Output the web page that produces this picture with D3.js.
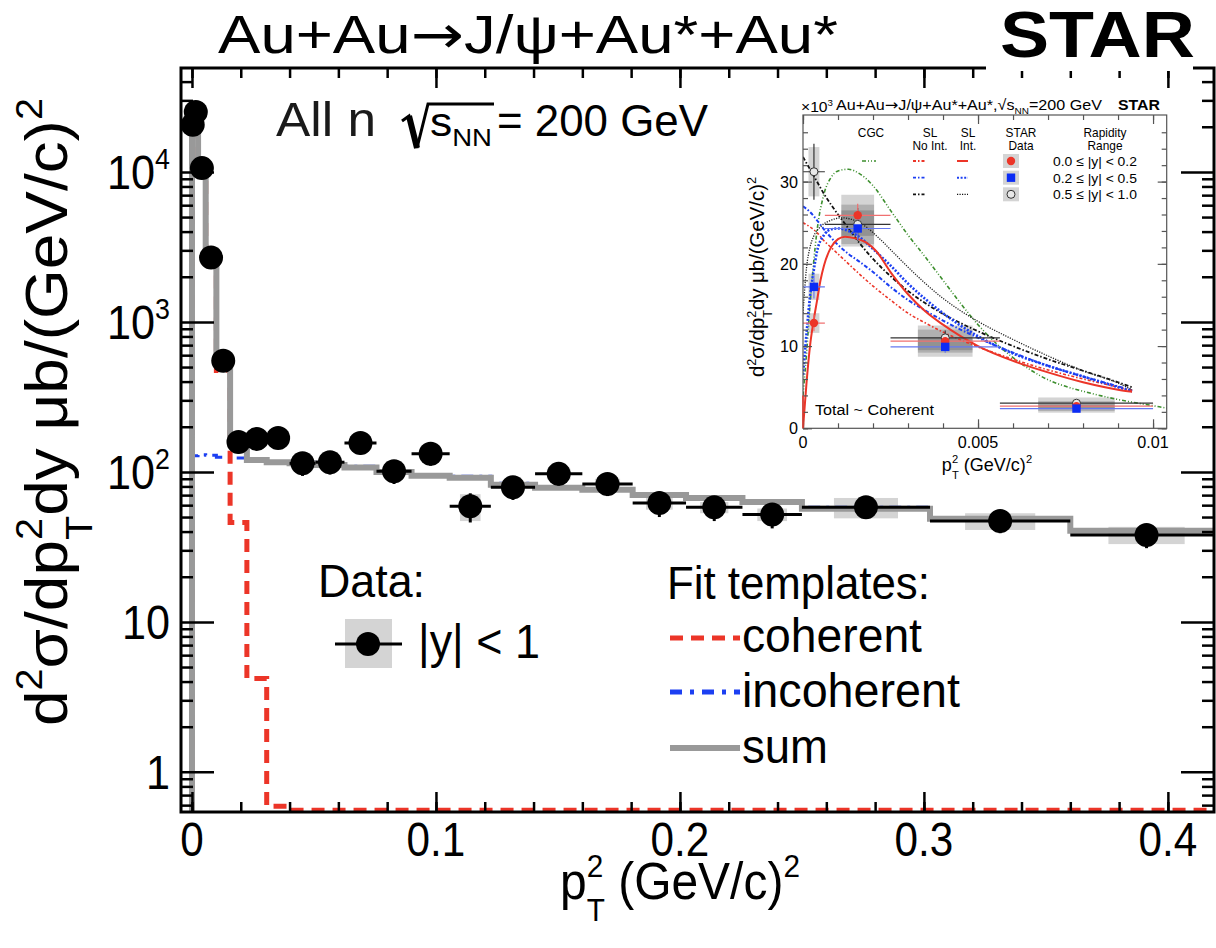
<!DOCTYPE html>
<html>
<head>
<meta charset="utf-8">
<script src="https://cdn.jsdelivr.net/npm/d3@7"></script>
<style>
  body { margin: 0; background: #fff; }
  svg { display: block; font-family: "Liberation Sans", Arial, Helvetica, sans-serif; }
</style>
</head>
<body>
<script>
var width = 1216,
    height = 948;

// ---- main plot data: p_T^2 bin edges (GeV/c)^2 and contents ----
var binEdges = [0, 0.000625, 0.0025, 0.005625, 0.01, 0.015625, 0.0225, 0.030625, 0.04,
  0.050625, 0.0625, 0.075625, 0.09, 0.105625, 0.1225, 0.140625, 0.16, 0.180625, 0.2025,
  0.225625, 0.25, 0.3025, 0.36, 0.4225];
var dataVals = [20600, 25100, 10600, 2690, 550, 158, 166, 168, 114, 116, 156, 101, 132,
  59, 79, 97, 83, 62, 58, 52, 58, 47, 38];
var dataStat = [1500, 1500, 700, 250, 60, 25, 25, 25, 20, 20, 25, 18, 22, 13, 14, 16, 14,
  12, 11, 10, 9, 8, 7];
var dataSys = [2000, 2000, 900, 250, 50, 15, 15, 15, 10, 10, 14, 9, 12, 12, 7, 8, 7, 6, 5,
  5, 9, 6, 5];
var cohVals = [23000, 24000, 9700, 2450, 475, 46, 4.2, 0.59, 0.555, 0.555, 0.555, 0.555,
  0.555, 0.555, 0.555, 0.555, 0.555, 0.555, 0.555, 0.555, 0.555, 0.555, 0.555];
var incohVals = [128, 128, 130, 129, 125, 124, 118, 117, 116, 113, 109, 102, 96, 93.5, 84,
  80, 77.5, 71.5, 68.5, 64.5, 58, 49.5, 41.3];
var sumVals = [24000, 25000, 10000, 2600, 580, 170, 120, 116, 114, 111, 107, 100, 94.4,
  91.5, 82.2, 78.5, 75.9, 70.2, 67.0, 63.1, 56.7, 48.7, 40.5];

var xMajorTicks = [0, 0.1, 0.2, 0.3, 0.4];
var xTickLabels = ["0", "0.1", "0.2", "0.3", "0.4"];
var yDecades = [1, 10, 100, 1000, 10000];
var yDecadeLabels = [["1", ""], ["10", ""], ["10", "2"], ["10", "3"], ["10", "4"]];

// ---- inset data (x10^3) ----
var insetEdges = [0, 0.000625, 0.0025, 0.005625, 0.01];
var insetRed = [12.8, 25.9, 10.6, 2.7];
var insetBlue = [17.2, 24.3, 9.9, 2.4];
var insetOpen = [31.2, 24.8, 11.0, 3.05];
var insetRedStat = [1.0, 1.4, 0.7, 0.3];
var insetBlueStat = [1.4, 1.4, 0.7, 0.3];
var insetOpenStat = [3.4, 2.0, 0.9, 0.4];
var insetRedSys = [1.2, 2.5, 1.4, 0.6];
var insetBlueSys = [1.6, 2.2, 1.2, 0.5];
var insetOpenSys = [3.0, 2.4, 1.5, 0.7];
var rapidityLabels = ["0.0 \u2264 |y| < 0.2", "0.2 \u2264 |y| < 0.5", "0.5 \u2264 |y| < 1.0"];

var cgcCurve = [[0, 4.0], [0.0001, 9], [0.0002, 15], [0.0003, 20], [0.0004, 24], [0.0006, 28.5],
  [0.0008, 30.5], [0.001, 31.3], [0.0013, 31.5], [0.0016, 31.0], [0.002, 29.5], [0.0025, 26.5],
  [0.003, 23.5], [0.0035, 20.8], [0.004, 18.0], [0.0045, 15.2], [0.005, 12.6], [0.0055, 10.4],
  [0.006, 8.6], [0.0065, 7.1], [0.007, 5.9], [0.0075, 5.1], [0.008, 4.5], [0.009, 3.5],
  [0.01, 2.75], [0.0104, 2.45]];
var slIntRed = [[0, 0], [0.0001, 5.5], [0.0002, 10], [0.0003, 13], [0.0004, 15.5], [0.0005, 18],
  [0.0006, 19.8], [0.0008, 22], [0.001, 23], [0.0012, 23.3], [0.0015, 23.1], [0.0018, 22.6],
  [0.0021, 21.5], [0.0025, 19.0], [0.003, 16.3], [0.0035, 14.2], [0.004, 12.6], [0.0045, 11.2],
  [0.005, 10.0], [0.006, 8.2], [0.007, 6.8], [0.008, 5.6], [0.009, 4.7], [0.0094, 4.45]];
var slIntBlue = [[0, 6.5], [0.0001, 11.5], [0.0002, 16], [0.0003, 19], [0.0004, 21.5],
  [0.0006, 23.5], [0.0008, 24.2], [0.001, 24.3], [0.0013, 24.0], [0.0016, 23.3], [0.002, 21.8],
  [0.0025, 19.8], [0.003, 17.6], [0.0035, 15.7], [0.004, 14.0], [0.0045, 12.5], [0.005, 11.2],
  [0.006, 9.1], [0.007, 7.6], [0.008, 6.3], [0.009, 5.0], [0.0094, 4.5]];
var slIntBlack = [[0, 14], [0.0001, 19.5], [0.0002, 22], [0.0003, 23.3], [0.0005, 24.5],
  [0.0008, 25.3], [0.0011, 25.6], [0.0014, 25.4], [0.0018, 24.5], [0.0022, 23.0], [0.0026, 21.3],
  [0.003, 19.6], [0.0035, 17.6], [0.004, 15.8], [0.0045, 14.3], [0.005, 13.0], [0.006, 10.8],
  [0.007, 8.8], [0.008, 7.0], [0.009, 5.5], [0.0094, 4.7]];
var slNoIntRed = [[0, 25], [0.0002, 24.5], [0.0004, 23.8], [0.0006, 22.8], [0.0008, 22],
  [0.001, 21.2], [0.0013, 20], [0.0016, 18.8], [0.002, 17.3], [0.0025, 15.6], [0.003, 14.0],
  [0.0035, 12.8], [0.004, 11.7], [0.005, 9.9], [0.006, 8.4], [0.007, 7.1], [0.008, 6.0],
  [0.009, 5.0], [0.0094, 4.6]];
var slNoIntBlue = [[0, 27], [0.0002, 26.3], [0.0004, 25.3], [0.0006, 24.2], [0.0008, 23.2],
  [0.001, 22.3], [0.0013, 21.2], [0.0016, 20.3], [0.002, 19.0], [0.0025, 17.2], [0.003, 15.6],
  [0.0035, 14.3], [0.004, 13.1], [0.005, 11.0], [0.006, 9.2], [0.007, 7.6], [0.008, 6.3],
  [0.009, 5.1], [0.0094, 4.6]];
var slNoIntBlack = [[0, 33], [0.0002, 31.5], [0.0004, 30], [0.0006, 28.5], [0.0008, 27.2],
  [0.001, 26], [0.0013, 24.3], [0.0016, 22.6], [0.002, 20.6], [0.0025, 18.5], [0.003, 16.7],
  [0.0035, 15.2], [0.004, 13.9], [0.0045, 12.8], [0.005, 11.8], [0.006, 10.0], [0.007, 8.4],
  [0.008, 7.0], [0.009, 5.6], [0.0094, 5.0]];

var RED = "#ec3528", BLUE = "#1c3ff2", GREEN = "#3d8f2e", GRAY = "#999999";
var ARROW = {"font-family": "DejaVu Sans"};

var svg = d3.select("body").append("svg")
    .attr("width", width)
    .attr("height", height);

svg.append("rect").attr("width", width).attr("height", height).attr("fill", "#fff");

// ---------- text helpers (sub/superscripts laid out piece by piece) ----------
function mathText(parent, pieces, size, attrs) {
  var g = parent.append("g");
  var cx = 0;
  function piece(str, dy, fs, extra) {
    var t = g.append("text").attr("x", cx).attr("y", dy).attr("font-size", fs).text(str);
    for (var k in attrs) t.attr(k, attrs[k]);
    for (var e in (extra || {})) t.attr(e, extra[e]);
    return t.node().getComputedTextLength();
  }
  pieces.forEach(function(p) {
    var kind = p[1] || "n";
    if (kind === "n") cx += piece(p[0], 0, size, p[3]);
    else if (kind === "sup") cx += piece(p[0], -0.42 * size, 0.62 * size);
    else if (kind === "sub") cx += piece(p[0], 0.25 * size, 0.62 * size);
    else if (kind === "ss") {
      var w1 = piece(p[0], -0.42 * size, 0.62 * size);
      var w2 = piece(p[2], 0.42 * size, 0.62 * size);
      cx += Math.max(w1, w2);
    } else if (kind === "gap") cx += p[0] * size;
  });
  return {g: g, w: cx};
}

function placeText(parent, pieces, size, px, py, opts) {
  opts = opts || {};
  var r = mathText(parent, pieces, size, opts.attrs || {});
  var k = opts.k || 1;
  if (opts.width) k = opts.width / r.w;
  var off = opts.anchor === "middle" ? r.w / 2 : (opts.anchor === "end" ? r.w : 0);
  r.g.attr("transform", "translate(" + px + "," + py + ")" +
    (opts.rotate ? " rotate(" + opts.rotate + ")" : "") +
    " scale(" + k + ",1) translate(" + (-off) + ",0)");
  return r;
}

// ---------- main plot ----------
var plot = {left: 181, right: 1214, top: 68, bottom: 812};

var x = d3.scaleLinear()
    .domain([-0.0045, 0.4189])
    .range([plot.left, plot.right]);

var y = d3.scaleLog()
    .domain([0.54, 49300])
    .range([plot.bottom, plot.top]);

svg.append("clipPath").attr("id", "clip")
  .append("rect")
    .attr("x", plot.left).attr("y", plot.top)
    .attr("width", plot.right - plot.left).attr("height", plot.bottom - plot.top);

var g = svg.append("g").attr("clip-path", "url(#clip)");

var centers = dataVals.map(function(v, i) { return (binEdges[i] + binEdges[i + 1]) / 2; });

// systematic boxes (half the bin width)
g.selectAll("rect.sys")
    .data(dataVals)
    .enter().append("rect")
    .attr("class", "sys")
    .attr("x", function(d, i) { return x(centers[i] - (binEdges[i + 1] - binEdges[i]) / 4); })
    .attr("width", function(d, i) { return (x(binEdges[i + 1]) - x(binEdges[i])) / 2; })
    .attr("y", function(d, i) { return y(d + dataSys[i]); })
    .attr("height", function(d, i) { return y(d - dataSys[i]) - y(d + dataSys[i]); })
    .attr("fill", "#d4d4d4");

function histPoints(vals) {
  var pts = [[binEdges[0], y.domain()[0]]];
  vals.forEach(function(v, i) { pts.push([binEdges[i], v]); });
  pts.push([binEdges[vals.length], vals[vals.length - 1]]);
  return pts;
}

var stepLine = d3.line()
    .x(function(d) { return x(d[0]); })
    .y(function(d) { return y(Math.max(d[1], y.domain()[0])); })
    .curve(d3.curveStepAfter);

g.append("path")
    .datum(histPoints(incohVals))
    .attr("d", stepLine)
    .attr("fill", "none").attr("stroke", BLUE).attr("stroke-width", 3)
    .attr("stroke-dasharray", "12,6,3,6");

g.append("path")
    .datum(histPoints(cohVals))
    .attr("d", stepLine)
    .attr("fill", "none").attr("stroke", RED).attr("stroke-width", 5)
    .attr("stroke-dasharray", "13,8");

g.append("path")
    .datum(histPoints(sumVals))
    .attr("d", stepLine)
    .attr("fill", "none").attr("stroke", GRAY).attr("stroke-width", 6);

// data: horizontal bars, stat errors, markers
g.selectAll("line.hbar")
    .data(dataVals)
    .enter().append("line")
    .attr("x1", function(d, i) { return x(binEdges[i]); })
    .attr("x2", function(d, i) { return x(binEdges[i + 1]); })
    .attr("y1", function(d) { return y(d); })
    .attr("y2", function(d) { return y(d); })
    .attr("stroke", "#000").attr("stroke-width", 3);

g.selectAll("line.vbar")
    .data(dataVals)
    .enter().append("line")
    .attr("x1", function(d, i) { return x(centers[i]); })
    .attr("x2", function(d, i) { return x(centers[i]); })
    .attr("y1", function(d, i) { return y(d + dataStat[i]); })
    .attr("y2", function(d, i) { return y(d - dataStat[i]); })
    .attr("stroke", "#000").attr("stroke-width", 3);

g.selectAll("circle.pt")
    .data(dataVals)
    .enter().append("circle")
    .attr("cx", function(d, i) { return x(centers[i]); })
    .attr("cy", function(d) { return y(d); })
    .attr("r", 12)
    .attr("fill", "#000");

// axes (ROOT style, ticks inside on all four sides)
function styleAxis(sel) {
  sel.select(".domain").remove();
  sel.selectAll("line").attr("stroke", "#000").attr("stroke-width", 2.5);
}
var xMinor = d3.range(0, 0.41, 0.02);
var yMinor = [];
[0.1, 1, 10, 100, 1000, 10000].forEach(function(dec) {
  for (var m = 2; m <= 9; m++) {
    var v = m * dec;
    if (v > y.domain()[0] && v < y.domain()[1]) yMinor.push(v);
  }
});

svg.append("g").attr("transform", "translate(0," + plot.bottom + ")")
    .call(d3.axisBottom(x).tickValues(xMinor).tickSize(-10).tickFormat("")).call(styleAxis);
svg.append("g").attr("transform", "translate(0," + plot.bottom + ")")
    .call(d3.axisBottom(x).tickValues(xMajorTicks).tickSize(-20).tickFormat("")).call(styleAxis);
svg.append("g").attr("transform", "translate(0," + plot.top + ")")
    .call(d3.axisTop(x).tickValues(xMinor).tickSize(-10).tickFormat("")).call(styleAxis);
svg.append("g").attr("transform", "translate(0," + plot.top + ")")
    .call(d3.axisTop(x).tickValues(xMajorTicks).tickSize(-20).tickFormat("")).call(styleAxis);
svg.append("g").attr("transform", "translate(" + plot.left + ",0)")
    .call(d3.axisLeft(y).tickValues(yMinor).tickSize(-12).tickFormat("")).call(styleAxis);
svg.append("g").attr("transform", "translate(" + plot.left + ",0)")
    .call(d3.axisLeft(y).tickValues(yDecades).tickSize(-33).tickFormat("")).call(styleAxis);
svg.append("g").attr("transform", "translate(" + plot.right + ",0)")
    .call(d3.axisRight(y).tickValues(yMinor).tickSize(-12).tickFormat("")).call(styleAxis);
svg.append("g").attr("transform", "translate(" + plot.right + ",0)")
    .call(d3.axisRight(y).tickValues(yDecades).tickSize(-33).tickFormat("")).call(styleAxis);

svg.append("rect")
    .attr("x", plot.left).attr("y", plot.top)
    .attr("width", plot.right - plot.left).attr("height", plot.bottom - plot.top)
    .attr("fill", "none").attr("stroke", "#000").attr("stroke-width", 3);

// tick labels
xMajorTicks.forEach(function(v, i) {
  placeText(svg, [[xTickLabels[i]]], 48, x(v), 856, {anchor: "middle", k: 0.88});
});
yDecades.forEach(function(v, i) {
  var lab = yDecadeLabels[i];
  var pieces = [[lab[0]]];
  if (lab[1]) pieces.push([lab[1], "sup"]);
  placeText(svg, pieces, 48, 170, y(v) + 17, {anchor: "end", k: 0.9});
});

// axis titles
placeText(svg, [["p"], ["2", "ss", "T"], ["\u00a0(GeV/c)"], ["2", "sup"]], 52, 680, 899,
  {anchor: "middle", width: 240});
placeText(svg, [["d"], ["2", "sup"], ["\u03c3/dp"], ["2", "ss", "T"], ["dy \u03bcb/(GeV/c)"], ["2", "sup"]],
  60, 67, 412, {anchor: "middle", rotate: -90, width: 628});

// title and STAR
placeText(svg, [["Au+Au"], ["\u2192", "n", null, ARROW], ["J/\u03c8+Au*+Au*"]], 53, 218, 53, {width: 620});
svg.append("rect").attr("x", 986).attr("y", 0).attr("width", 207).attr("height", 71).attr("fill", "#fff");
placeText(svg, [["STAR"]], 64, 1000, 57, {width: 195, attrs: {"font-weight": "bold"}});

// "All n  sqrt(s_NN) = 200 GeV"
placeText(svg, [["All n"]], 48, 276, 136, {width: 100, attrs: {fill: "#1a1a1a"}});
svg.append("path")
    .attr("d", "M402,121 L409,116 L417,148 L428,104 L494,104")
    .attr("fill", "none").attr("stroke", "#000").attr("stroke-width", 3).attr("stroke-linejoin", "miter");
svg.append("path").attr("d", "M409,116 L417,148").attr("stroke", "#000").attr("stroke-width", 6);
placeText(svg, [["s"], ["NN", "sub"]], 40, 430, 136, {width: 62});
placeText(svg, [["= 200 GeV"]], 45, 497, 136, {width: 211});

// legend
placeText(svg, [["Data:"]], 46, 318, 597, {width: 107});
svg.append("rect").attr("x", 345).attr("y", 619).attr("width", 47).attr("height", 49).attr("fill", "#d4d4d4");
svg.append("line").attr("x1", 335).attr("x2", 402).attr("y1", 644).attr("y2", 644)
    .attr("stroke", "#000").attr("stroke-width", 3);
svg.append("circle").attr("cx", 368).attr("cy", 644).attr("r", 12).attr("fill", "#000");
placeText(svg, [["|y| < 1"]], 48, 418, 658, {width: 122});

placeText(svg, [["Fit templates:"]], 46, 667, 599, {width: 263});
var legendRows = [
  {label: "coherent", y: 638, color: RED, w: 5, dash: "13,8", ty: 652, tw: 180},
  {label: "incoherent", y: 692, color: BLUE, w: 5, dash: "12,8,4,8", ty: 707, tw: 218},
  {label: "sum", y: 748, color: GRAY, w: 6, dash: null, ty: 763, tw: 86}
];
legendRows.forEach(function(r) {
  svg.append("line").attr("x1", 670).attr("x2", 740).attr("y1", r.y).attr("y2", r.y)
      .attr("stroke", r.color).attr("stroke-width", r.w)
      .attr("stroke-dasharray", r.dash);
  placeText(svg, [[r.label]], 48, 742, r.ty, {width: r.tw});
});

// ---------- inset ----------
svg.append("rect").attr("x", 735).attr("y", 88).attr("width", 443).attr("height", 392).attr("fill", "#fff");

var ip = {left: 803, right: 1166.7, top: 115, bottom: 428.3};
var ix = d3.scaleLinear().domain([0, 0.01039]).range([ip.left, ip.right]);
var iy = d3.scaleLinear().domain([0, 38.1]).range([ip.bottom, ip.top]);

svg.append("clipPath").attr("id", "iclip")
  .append("rect")
    .attr("x", ip.left).attr("y", ip.top)
    .attr("width", ip.right - ip.left).attr("height", ip.bottom - ip.top);

var ig = svg.append("g").attr("clip-path", "url(#iclip)");
var insetCenters = insetRed.map(function(d, i) { return (insetEdges[i] + insetEdges[i + 1]) / 2; });

var insetSets = [
  {vals: insetOpen, stat: insetOpenStat, sys: insetOpenSys, color: "#222", bar: "#333"},
  {vals: insetRed, stat: insetRedStat, sys: insetRedSys, color: RED, bar: "#f07070"},
  {vals: insetBlue, stat: insetBlueStat, sys: insetBlueSys, color: "#0b2cf5", bar: "#6478f0"}
];

insetSets.forEach(function(s) {
  ig.selectAll(null).data(s.vals).enter().append("rect")
      .attr("x", function(d, i) { return ix(insetCenters[i] - (insetEdges[i + 1] - insetEdges[i]) / 4); })
      .attr("width", function(d, i) { return (ix(insetEdges[i + 1]) - ix(insetEdges[i])) / 2; })
      .attr("y", function(d, i) { return iy(d + s.sys[i]); })
      .attr("height", function(d, i) { return iy(d - s.sys[i]) - iy(d + s.sys[i]); })
      .attr("fill", "#000").attr("fill-opacity", 0.17);
});

var curveLine = d3.line()
    .x(function(d) { return ix(d[0]); })
    .y(function(d) { return iy(d[1]); })
    .curve(d3.curveMonotoneX);

var insetCurves = [
  {data: cgcCurve, color: GREEN, w: 1.6, dash: "4,2,1,2,1,2"},
  {data: slNoIntBlack, color: "#111", w: 1.8, dash: "4,2,1.5,2"},
  {data: slNoIntBlue, color: BLUE, w: 2, dash: "4,2,1.5,2"},
  {data: slNoIntRed, color: RED, w: 1.6, dash: "3,2,1.5,2"},
  {data: slIntBlack, color: "#222", w: 1.3, dash: "1.2,1.3"},
  {data: slIntBlue, color: BLUE, w: 2.6, dash: "2,1.6"},
  {data: slIntRed, color: RED, w: 2, dash: null}
];
insetCurves.forEach(function(c) {
  ig.append("path").datum(c.data).attr("d", curveLine)
      .attr("fill", "none").attr("stroke", c.color).attr("stroke-width", c.w)
      .attr("stroke-dasharray", c.dash);
});

insetSets.forEach(function(s) {
  ig.selectAll(null).data(s.vals).enter().append("line")
      .attr("x1", function(d, i) { return ix(insetEdges[i]); })
      .attr("x2", function(d, i) { return ix(insetEdges[i + 1]); })
      .attr("y1", function(d) { return iy(d); })
      .attr("y2", function(d) { return iy(d); })
      .attr("stroke", s.bar).attr("stroke-width", 1.2);
  ig.selectAll(null).data(s.vals).enter().append("line")
      .attr("x1", function(d, i) { return ix(insetCenters[i]); })
      .attr("x2", function(d, i) { return ix(insetCenters[i]); })
      .attr("y1", function(d, i) { return iy(d + s.stat[i]); })
      .attr("y2", function(d, i) { return iy(d - s.stat[i]); })
      .attr("stroke", s.bar).attr("stroke-width", 1.2);
});

function drawMarker(sel, kind, cx, cy) {
  if (kind === 0) sel.append("circle").attr("cx", cx).attr("cy", cy).attr("r", 4)
      .attr("fill", "#e8e8e8").attr("stroke", "#333").attr("stroke-width", 1);
  else if (kind === 1) sel.append("circle").attr("cx", cx).attr("cy", cy).attr("r", 4.2).attr("fill", RED);
  else sel.append("rect").attr("x", cx - 4.2).attr("y", cy - 4.2).attr("width", 8.4).attr("height", 8.4).attr("fill", "#0b2cf5");
}
insetSets.forEach(function(s, si) {
  s.vals.forEach(function(v, i) { drawMarker(ig, si, ix(insetCenters[i]), iy(v)); });
});

// inset axes
function styleInset(sel) {
  sel.select(".domain").remove();
  sel.selectAll("line").attr("stroke", "#555").attr("stroke-width", 1.2);
}
var ixMinor = d3.range(0, 0.0101, 0.001);
var ixMajor = [0, 0.005, 0.01];
var iyMinor = d3.range(0, 38, 2);
var iyMajor = [0, 10, 20, 30];
svg.append("g").attr("transform", "translate(0," + ip.bottom + ")")
    .call(d3.axisBottom(ix).tickValues(ixMinor).tickSize(-5).tickFormat("")).call(styleInset);
svg.append("g").attr("transform", "translate(0," + ip.bottom + ")")
    .call(d3.axisBottom(ix).tickValues(ixMajor).tickSize(-9).tickFormat("")).call(styleInset);
svg.append("g").attr("transform", "translate(0," + ip.top + ")")
    .call(d3.axisTop(ix).tickValues(ixMinor).tickSize(-5).tickFormat("")).call(styleInset);
svg.append("g").attr("transform", "translate(0," + ip.top + ")")
    .call(d3.axisTop(ix).tickValues(ixMajor).tickSize(-9).tickFormat("")).call(styleInset);
svg.append("g").attr("transform", "translate(" + ip.left + ",0)")
    .call(d3.axisLeft(iy).tickValues(iyMinor).tickSize(-5).tickFormat("")).call(styleInset);
svg.append("g").attr("transform", "translate(" + ip.left + ",0)")
    .call(d3.axisLeft(iy).tickValues(iyMajor).tickSize(-9).tickFormat("")).call(styleInset);
svg.append("g").attr("transform", "translate(" + ip.right + ",0)")
    .call(d3.axisRight(iy).tickValues(iyMinor).tickSize(-5).tickFormat("")).call(styleInset);
svg.append("g").attr("transform", "translate(" + ip.right + ",0)")
    .call(d3.axisRight(iy).tickValues(iyMajor).tickSize(-9).tickFormat("")).call(styleInset);
svg.append("rect")
    .attr("x", ip.left).attr("y", ip.top)
    .attr("width", ip.right - ip.left).attr("height", ip.bottom - ip.top)
    .attr("fill", "none").attr("stroke", "#555").attr("stroke-width", 1.2);
// red y-axis line near the origin as in the reference
svg.append("line").attr("x1", ip.left).attr("x2", ip.left).attr("y1", iy(0)).attr("y2", iy(4))
    .attr("stroke", RED).attr("stroke-width", 1.5);

["0", "0.005", "0.01"].forEach(function(lab, i) {
  placeText(svg, [[lab]], 17, ix(ixMajor[i]), 448, {anchor: "middle", k: 0.95});
});
["0", "10", "20", "30"].forEach(function(lab, i) {
  placeText(svg, [[lab]], 17, 798, iy(iyMajor[i]) + 6, {anchor: "end", k: 0.95});
});

placeText(svg, [["p"], ["2", "ss", "T"], ["\u00a0(GeV/c)"], ["2", "sup"]], 19, 987, 471, {anchor: "middle", k: 0.95});
placeText(svg, [["d"], ["2", "sup"], ["\u03c3/dp"], ["2", "ss", "T"], ["dy \u03bcb/(GeV/c)"], ["2", "sup"]],
  20, 764, 277, {anchor: "middle", rotate: -90, width: 200});

placeText(svg, [["\u00d710"], ["3", "sup"]], 14, 801, 112, {width: 32});
placeText(svg, [["Au+Au"], ["\u2192", "n", null, ARROW], ["J/\u03c8+Au*+Au*,\u221a"], ["s"], ["NN", "sub"], ["=200 GeV"]],
  15, 836, 110, {width: 266});
placeText(svg, [["STAR"]], 14, 1118, 110, {width: 42, attrs: {"font-weight": "bold"}});

// inset legend header
var headers = [
  {lines: ["CGC"], cx: 871},
  {lines: ["SL", "No Int."], cx: 930},
  {lines: ["SL", "Int."], cx: 968},
  {lines: ["STAR", "Data"], cx: 1021},
  {lines: ["Rapidity", "Range"], cx: 1105}
];
headers.forEach(function(h) {
  h.lines.forEach(function(l, j) {
    placeText(svg, [[l]], 12.5, h.cx, 137 + 12.5 * j, {anchor: "middle", k: 0.95});
  });
});
var rowY = [161, 177.7, 194.3];
var rowColors = [RED, BLUE, "#111"];
svg.append("line").attr("x1", 862).attr("x2", 876).attr("y1", rowY[0]).attr("y2", rowY[0])
    .attr("stroke", GREEN).attr("stroke-width", 1.6).attr("stroke-dasharray", "4,2,1,2,1,2");
rowY.forEach(function(ry, j) {
  svg.append("line").attr("x1", 913).attr("x2", 926).attr("y1", ry).attr("y2", ry)
      .attr("stroke", rowColors[j]).attr("stroke-width", 1.8)
      .attr("stroke-dasharray", "3,2,1.5,2");
  svg.append("line").attr("x1", 957).attr("x2", 968).attr("y1", ry).attr("y2", ry)
      .attr("stroke", rowColors[j]).attr("stroke-width", j === 2 ? 1.3 : 2)
      .attr("stroke-dasharray", j === 0 ? null : (j === 1 ? "2,1.6" : "1.2,1.3"));
  svg.append("rect").attr("x", 1003).attr("y", ry - 7).attr("width", 16).attr("height", 14)
      .attr("fill", "#000").attr("fill-opacity", 0.17);
  drawMarker(svg, [1, 2, 0][j], 1011, ry);
  placeText(svg, [[rapidityLabels[j]]], 13.5, 1053, ry + 5, {width: 84});
});

placeText(svg, [["Total ~ Coherent"]], 15.5, 815, 415, {width: 119});
</script>
</body>
</html>
